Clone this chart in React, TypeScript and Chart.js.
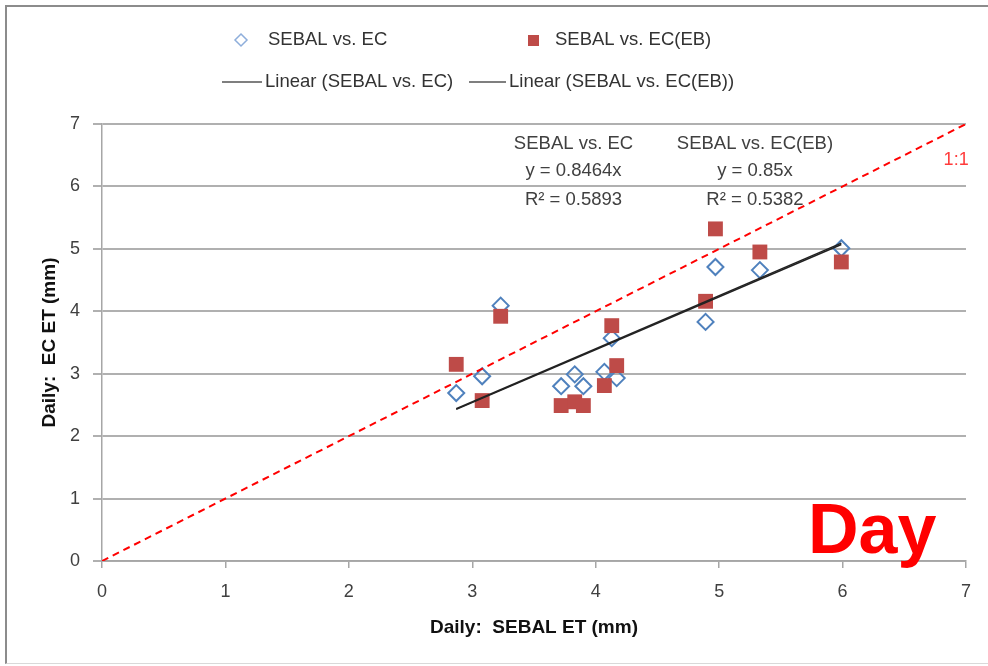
import React, { useEffect, useRef } from "react";
import { Chart, registerables } from "chart.js";

Chart.register(...registerables);

// ---- data ----
const SEBAL_ET = [2.87, 3.08, 3.23, 3.72, 3.83, 3.9, 4.07, 4.13, 4.17, 4.89, 4.97, 5.33, 5.99];
const EC_ET = [2.69, 2.96, 4.09, 2.8, 2.99, 2.8, 3.03, 3.57, 2.93, 3.83, 4.71, 4.66, 5.01];
const EC_EB_ET = [3.15, 2.57, 3.92, 2.49, 2.55, 2.49, 2.81, 3.77, 3.13, 4.16, 5.32, 4.95, 4.79];
const SERIES_LABELS = ["SEBAL vs. EC", "SEBAL vs. EC(EB)"];
const TREND_LABELS = ["Linear (SEBAL vs. EC)", "Linear (SEBAL vs. EC(EB))"];
const SLOPES = [0.8464, 0.85];
const R2 = [0.5893, 0.5382];
const AXIS_MIN = 0;
const AXIS_MAX = 7;
const X_TITLE = "Daily:  SEBAL ET (mm)";
const Y_TITLE = "Daily:  EC ET (mm)";
const ONE_TO_ONE = "1:1";
const PERIOD_LABEL = "Day";

const FONT = "'Liberation Sans', Arial, sans-serif";
const BLUE = "#4f81bd";
const RED = "#be4b48";

const xs = SEBAL_ET;
const minX = Math.min(...xs);
const maxX = Math.max(...xs);
const trend = (k: number) => [
  { x: minX, y: k * minX },
  { x: maxX, y: k * maxX },
];

const legendPlugin = {
  id: "customLegend",
  afterDraw(chart: any) {
    const ctx = chart.ctx as CanvasRenderingContext2D;
    ctx.save();
    ctx.font = `18.5px ${FONT}`;
    ctx.fillStyle = "#333";
    ctx.textBaseline = "middle";
    ctx.textAlign = "left";
    // row 1
    const y1 = 40;
    ctx.strokeStyle = "#8eaedb";
    ctx.lineWidth = 1.5;
    ctx.beginPath();
    ctx.moveTo(241, y1 - 6);
    ctx.lineTo(247, y1);
    ctx.lineTo(241, y1 + 6);
    ctx.lineTo(235, y1);
    ctx.closePath();
    ctx.stroke();
    ctx.fillText(SERIES_LABELS[0], 268, y1);
    ctx.fillStyle = RED;
    ctx.fillRect(528, y1 - 5, 11, 11);
    ctx.fillStyle = "#333";
    ctx.fillText(SERIES_LABELS[1], 555, y1);
    // row 2
    const y2 = 82;
    ctx.strokeStyle = "#555";
    ctx.lineWidth = 1.5;
    ctx.beginPath();
    ctx.moveTo(222, y2);
    ctx.lineTo(262, y2);
    ctx.moveTo(469, y2);
    ctx.lineTo(506, y2);
    ctx.stroke();
    ctx.fillText(TREND_LABELS[0], 265, y2);
    ctx.fillText(TREND_LABELS[1], 509, y2);
    ctx.restore();
  },
};

const annotationPlugin = {
  id: "annotations",
  afterDatasetsDraw(chart: any) {
    const ctx = chart.ctx as CanvasRenderingContext2D;
    const sx = chart.scales.x;
    const sy = chart.scales.y;
    ctx.save();
    ctx.textAlign = "center";
    ctx.textBaseline = "middle";
    ctx.font = `18.5px ${FONT}`;
    ctx.fillStyle = "#404040";
    const blocks = [
      { x: 3.82, lines: [SERIES_LABELS[0], `y = ${SLOPES[0]}x`, `R² = ${R2[0]}`] },
      { x: 5.29, lines: [SERIES_LABELS[1], `y = ${SLOPES[1]}x`, `R² = ${R2[1]}`] },
    ];
    const ys = [6.68, 6.25, 5.79];
    blocks.forEach((b) => {
      b.lines.forEach((t, i) => {
        ctx.fillText(t, sx.getPixelForValue(b.x), sy.getPixelForValue(ys[i]));
      });
    });
    ctx.fillStyle = "#ff3b3b";
    ctx.font = `18px ${FONT}`;
    ctx.fillText(ONE_TO_ONE, sx.getPixelForValue(6.92), sy.getPixelForValue(6.42));
    ctx.fillStyle = "#ff0000";
    ctx.font = `bold 70px ${FONT}`;
    ctx.textBaseline = "alphabetic";
    ctx.fillText(PERIOD_LABEL, sx.getPixelForValue(6.24), sy.getPixelForValue(0.13));
    ctx.restore();
  },
};

export default function App() {
  const ref = useRef<HTMLCanvasElement | null>(null);
  useEffect(() => {
    if (!ref.current) return;
    const chart = new Chart(ref.current, {
      type: "scatter",
      data: {
        datasets: [
          {
            label: ONE_TO_ONE,
            data: [
              { x: AXIS_MIN, y: AXIS_MIN },
              { x: AXIS_MAX, y: AXIS_MAX },
            ],
            showLine: true,
            borderColor: "#ff0000",
            borderWidth: 2,
            borderDash: [7, 5],
            pointRadius: 0,
            order: -3,
          },
          {
            label: TREND_LABELS[0],
            data: trend(SLOPES[0]),
            showLine: true,
            borderColor: "#222",
            borderWidth: 1.5,
            pointRadius: 0,
            order: -2,
          },
          {
            label: TREND_LABELS[1],
            data: trend(SLOPES[1]),
            showLine: true,
            borderColor: "#222",
            borderWidth: 1.5,
            pointRadius: 0,
            order: -2,
          },
          {
            label: SERIES_LABELS[1],
            data: xs.map((x, i) => ({ x, y: EC_EB_ET[i] })),
            pointStyle: "rect",
            pointRadius: 10.5,
            backgroundColor: RED,
            borderColor: RED,
            borderWidth: 0,
            order: 0,
          },
          {
            label: SERIES_LABELS[0],
            data: xs.map((x, i) => ({ x, y: EC_ET[i] })),
            pointStyle: "rectRot",
            pointRadius: 8,
            backgroundColor: "rgba(255,255,255,0)",
            borderColor: BLUE,
            borderWidth: 2,
            order: 1,
          },
        ],
      },
      options: {
        responsive: false,
        animation: false,
        devicePixelRatio: 1,
        layout: { padding: { left: 0, top: 124, right: 22, bottom: 0 } },
        plugins: {
          legend: { display: false },
          tooltip: { enabled: false },
        },
        scales: {
          x: {
            type: "linear",
            min: AXIS_MIN,
            max: AXIS_MAX,
            afterFit: (s: any) => {
              s.height = 105;
            },
            ticks: {
              stepSize: 1,
              padding: 13,
              color: "#404040",
              font: { family: FONT, size: 18 },
            },
            grid: {
              drawOnChartArea: false,
              drawTicks: true,
              tickLength: 7,
              color: "#a6a6a6",
              lineWidth: 1.5,
            },
            border: { color: "#a6a6a6", width: 1.5 },
            title: {
              display: true,
              text: X_TITLE,
              color: "#111",
              font: { family: FONT, size: 19, weight: "bold" },
              padding: { top: 0, bottom: 27 },
            },
          },
          y: {
            type: "linear",
            min: AXIS_MIN,
            max: AXIS_MAX,
            afterFit: (s: any) => {
              s.width = 102;
            },
            ticks: {
              stepSize: 1,
              padding: 13,
              color: "#404040",
              font: { family: FONT, size: 18 },
            },
            grid: {
              color: "#b0b0b0",
              lineWidth: 2,
              tickLength: 9,
            },
            border: { color: "#a6a6a6", width: 1.5 },
            title: {
              display: true,
              text: Y_TITLE,
              color: "#111",
              font: { family: FONT, size: 19, weight: "bold" },
              padding: { top: 38, bottom: 0 },
            },
          },
        },
      },
      plugins: [legendPlugin, annotationPlugin],
    } as any);
    return () => chart.destroy();
  }, []);

  return (
    <div
      style={{
        position: "fixed",
        left: 0,
        top: 0,
        width: 988,
        height: 666,
        background: "#fff",
        overflow: "hidden",
      }}
    >
      <div
        style={{
          position: "absolute",
          left: 5,
          top: 5,
          width: 990,
          height: 656,
          borderLeft: "2px solid #8c8c8c",
          borderTop: "2px solid #8c8c8c",
          borderBottom: "1px solid #d9d9d9",
          pointerEvents: "none",
        }}
      />
      <canvas ref={ref} width={988} height={666} style={{ display: "block", position: "absolute", left: 0, top: 0 }} />
    </div>
  );
}
